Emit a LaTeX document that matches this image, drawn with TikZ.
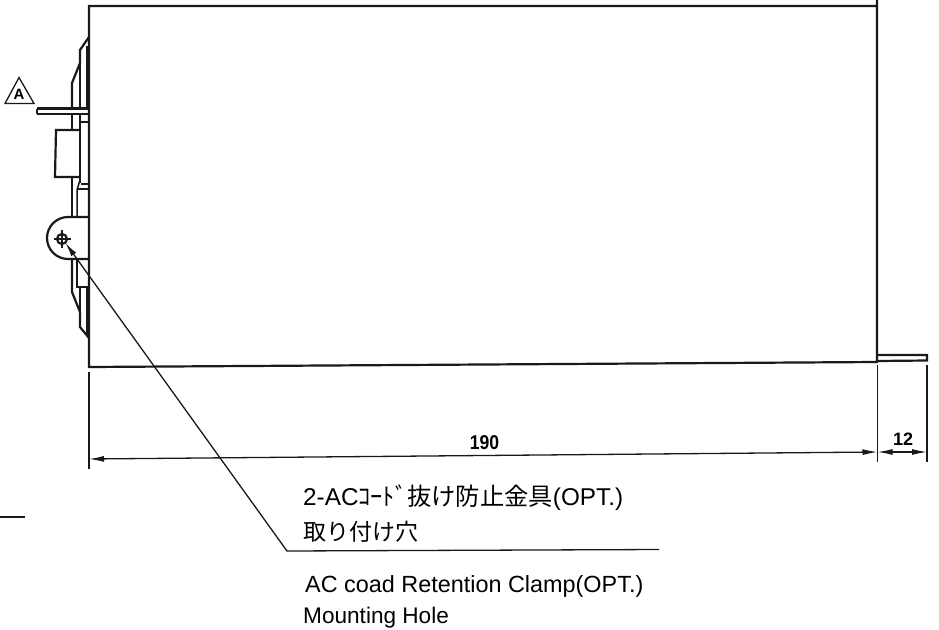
\documentclass[tikz,border=0pt]{standalone}
\usepackage{fontspec}
\setmainfont{Liberation Sans}
\newfontfamily\cjk{Noto Sans CJK JP}
\usetikzlibrary{arrows.meta}
\tikzset{
 heavy/.style={line width=2.2pt,black!90},
 med/.style={line width=1.5pt,black!90},
 thin1/.style={line width=1.3pt,black!90},
 dimarrow/.style={thin1,{Latex[length=15pt,width=6pt]}-{Latex[length=15pt,width=6pt]}},
 lbl/.style={anchor=base west,inner sep=0pt,text=black},
 dimlbl/.style={anchor=base,inner sep=0pt,font=\bfseries,text=black},
}
\begin{document}
\begin{tikzpicture}[x=1pt,y=-1pt]
\useasboundingbox (0,0) rectangle (939,629);
% body
\draw[heavy] (877,0) -- (877,362) -- (89,367) -- (89,6) -- (877,6);
% tab
\draw[heavy] (877,355) -- (927,355) -- (927,360.5) -- (877,361);
% front panel upper
\draw[heavy] (89,37) -- (80,50) -- (80,63) -- (72,83) -- (72,108);
\draw[heavy] (87,46) -- (87,108);
\draw[heavy] (80,63) -- (80,108);
% plate
\draw[heavy] (37,108.5) -- (89,108.5);
\draw[heavy] (37,114) -- (89,114);
\draw[med] (37,108.5) -- (37,114);
% connector block
\draw[heavy] (80,114) -- (80,183);
\draw[heavy] (72,114) -- (72,130);
\draw[heavy] (80,130) -- (56,130) -- (55,177) -- (80,177);
\draw[med] (81,122) -- (89,122);
\draw[med] (81,184) -- (89,184);
\draw[med] (72,177) -- (72,217);
\draw[med] (80,180) -- (77,190) -- (77,217);
\draw[med] (77,189) -- (89,189);
% clamp
\draw[heavy] (89,217) -- (68,217) arc[start angle=-90,end angle=-270,radius=21] -- (89,259);
\coordinate (hole) at (62,239);
\draw[heavy] (hole) circle[radius=5];
\draw[thin1] (54,239) -- (71,239) (62,230) -- (62,248);
% lower panel
\draw[heavy] (72,259) -- (72,292) -- (80,312) -- (80,327) -- (89,338);
\draw[med] (77,259) -- (77,287) -- (89,287);
\draw[heavy] (87,287) -- (87,335);
\draw[heavy] (80,287) -- (80,312);
% triangle A
\draw[thin1] (19,77.5) -- (34,103.5) -- (5,103.5) -- cycle;
\node[anchor=center,inner sep=0pt,font=\fontsize{15}{16}\selectfont\bfseries] (markA) at (19,94.5) {A};
% extension lines
\coordinate (e1a) at (89,372); \coordinate (e1b) at (89,469);
\coordinate (e2a) at (877.5,365); \coordinate (e2b) at (877.5,462);
\coordinate (e3a) at (927,365); \coordinate (e3b) at (927,462);
\draw[thin1] (e1a) -- (e1b);
\draw[thin1] (e2a) -- (e2b);
\draw[thin1] (e3a) -- (e3b);
% dimensions
\coordinate (d1) at (89,459); \coordinate (d2) at (877.5,452); \coordinate (d3) at (927,452);
\draw[dimarrow] (d1) -- (d2);
\draw[dimarrow] (d2) -- (d3);
\node[dimlbl] (t190) at (484.5,449) {\fontsize{20}{22}\selectfont\scalebox{.88}[1]{190}};
\node[dimlbl] (t12) at (903,445) {\fontsize{18}{20}\selectfont 12};
% stray line
\draw[med] (0,517) -- (25,517);
% leader
\coordinate (lc) at (287,551); \coordinate (le) at (659,549.5);
\draw[thin1,{Latex[length=14pt,width=6pt]}-] (65.5,243) -- (lc) -- (le);
% text
\node[lbl,font=\fontsize{24.3}{26}\selectfont] (a) at (303,505) {2-AC{\cjk ｺｰﾄﾞ抜け防止金具}(OPT.)};
\node[lbl,font=\fontsize{23}{26}\selectfont] (b) at (303,540) {\cjk 取り付け穴};
\node[lbl,font=\fontsize{23.4}{26}\selectfont] (c) at (305,592) {AC coad Retention Clamp(OPT.)};
\node[lbl,font=\fontsize{22.6}{26}\selectfont] (d) at (303,623) {Mounting Hole};
\end{tikzpicture}
\end{document}
